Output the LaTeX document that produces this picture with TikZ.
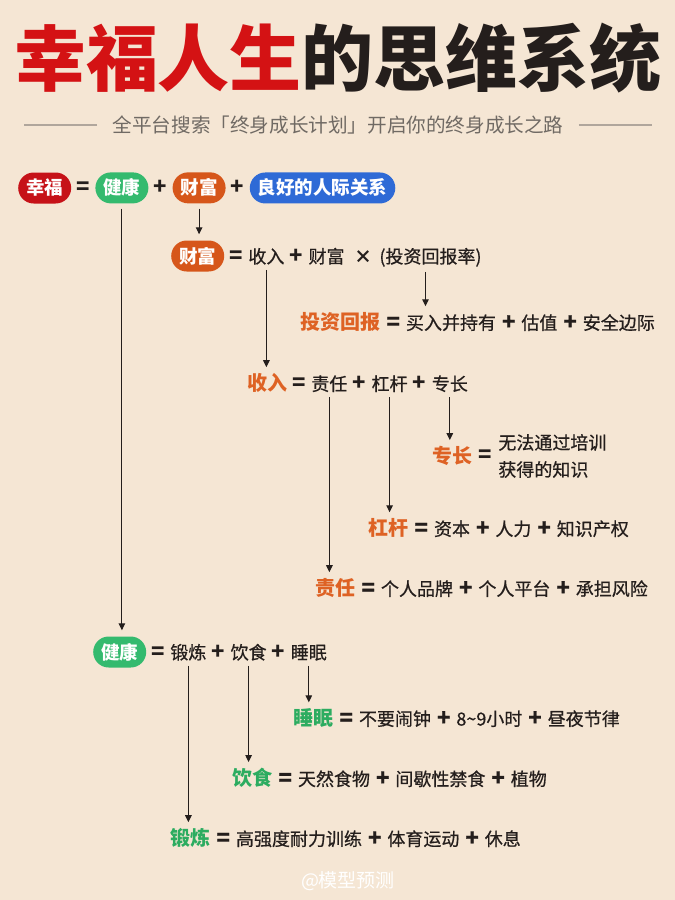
\documentclass[tikz,border=0pt]{standalone}
\usepackage{fontspec}
\setmainfont{Noto Sans CJK SC}
\newfontfamily\bodyfont{Noto Sans CJK SC}[FakeBold=0.6]
\usetikzlibrary{arrows.meta, positioning}
\definecolor{diagBg}{RGB}{245,230,212}
\definecolor{diagInk}{RGB}{36,30,28}
\definecolor{diagTitleRed}{RGB}{212,18,20}
\definecolor{diagRed}{RGB}{198,18,24}
\definecolor{diagGreen}{RGB}{52,186,110}
\definecolor{diagGreenText}{RGB}{44,172,96}
\definecolor{diagOrange}{RGB}{214,86,26}
\definecolor{diagOrangeText}{RGB}{222,98,36}
\definecolor{diagBlue}{RGB}{46,106,214}
\definecolor{diagGray}{RGB}{112,106,100}
\definecolor{diagRule}{RGB}{176,166,156}
% a bold operator with its spacing, used inside the equation texts
\newcommand{\opsym}[1]{\hspace{6pt}{\fontsize{22}{20}\selectfont\bfseries #1}\hspace{6pt}}
\tikzset{
  % rounded pill; the colour comes from one of the *pill styles below
  pill/.style={
    rounded corners=15.5pt, minimum height=31pt, inner xsep=8pt, inner ysep=0pt,
    text=white, font=\fontsize{18.5}{20}\selectfont\bfseries
  },
  redpill/.style={pill, fill=diagRed},
  greenpill/.style={pill, fill=diagGreen},
  orangepill/.style={pill, fill=diagOrange},
  bluepill/.style={pill, fill=diagBlue},
  % plain words of an equation
  term/.style={inner sep=0pt, text=diagInk, font=\bodyfont\fontsize{18}{20}\selectfont},
  op/.style={inner sep=0pt, text=diagInk, font=\fontsize{22}{20}\selectfont\bfseries},
  % coloured head word of an equation
  orkey/.style={inner sep=0pt, text=diagOrangeText, font=\fontsize{20}{22}\selectfont\bfseries},
  grkey/.style={inner sep=0pt, text=diagGreenText, font=\fontsize{20}{22}\selectfont\bfseries},
  % arrows
  flow/.style={-{Triangle[length=7pt,width=6.5pt]}, draw=diagInk, line width=1.1pt,
               shorten <=5pt, shorten >=6pt},
  rule/.style={draw=diagRule, line width=1.1pt},
}

\begin{document}
\begin{tikzpicture}[x=1pt, y=-1pt]

\fill[diagBg] (0,0) rectangle (675,900);
\useasboundingbox (0,0) rectangle (675,900);

% ===========================================================================
% TITLE
% ===========================================================================
\node[text=diagInk, font=\fontsize{72}{72}\selectfont\bfseries] (title) at (338,58)
      {\textcolor{diagTitleRed}{幸福人生}的思维系统};

\node[text=diagGray, font=\fontsize{19.6}{20}\selectfont] (sub) at (338,125)
      {全平台搜索「终身成长计划」开启你的终身成长之路};
\draw[rule] ([xshift=-12pt]sub.west) -- ++(-73,0);
\draw[rule] ([xshift=12pt]sub.east) -- ++(73,0);

% ===========================================================================
% TOP LINE: happiness
% ===========================================================================
\node[redpill, anchor=west] (xf) at (18,188) {幸福};
\node[op, base right=5pt of xf] (e1) {=};
\node[greenpill, base right=5pt of e1] (jk) {健康};
\node[op, base right=5pt of jk] (p1) {+};
\node[orangepill, base right=5pt of p1] (cf) {财富};
\node[op, base right=5pt of cf] (p2) {+};
\node[bluepill, base right=5pt of p2] (rel) {良好的人际关系};

% ===========================================================================
% WEALTH BRANCH
% ===========================================================================
\node[orangepill, anchor=west] (cf2) at (171,256) {财富};
\node[op, base right=5pt of cf2] (e2) {=};
\node[term, base right=5pt of e2] (wsr) {收入};
\node[op, base right=5pt of wsr] (p3) {+};
\node[term, base right=5pt of p3] (wcf) {财富};
\node[term, font=\fontsize{18}{20}\selectfont\bfseries, base right=10pt of wcf] (tm) {×};
\node[term, base right=6pt of tm] (wroi) {(投资回报率)};

\draw[flow] (cf.south) -- (cf.south |- cf2.north);

\node[orkey, anchor=west] (ktz) at (300,322) {投资回报};
\node[term, base right=0pt of ktz] (rtz)
      {\opsym{=}买入并持有\opsym{+}估值\opsym{+}安全边际};

\draw[flow] ([xshift=-5pt]wroi.south) -- ([xshift=-5pt]wroi.south |- ktz.north);

\node[orkey, anchor=west] (ksr) at (247,383) {收入};
\node[op, base right=5pt of ksr] (e3) {=};
\node[term, base right=5pt of e3] (wzr) {责任};
\node[op, base right=5pt of wzr] (p4) {+};
\node[term, base right=5pt of p4] (wgg) {杠杆};
\node[op, base right=5pt of wgg] (p5) {+};
\node[term, base right=5pt of p5] (wzc) {专长};

\draw[flow] (wsr.south) -- (wsr.south |- ksr.north);

\node[orkey, anchor=west] (kzc) at (432,456) {专长};
\node[op, right=6pt of kzc] (e4) {=};
\node[term, right=6pt of e4, align=left, font=\bodyfont\fontsize{18}{27}\selectfont] (rzc)
      {无法通过培训\\获得的知识};

\node[orkey, anchor=west] (kgg) at (368,528) {杠杆};
\node[term, base right=0pt of kgg] (rgg)
      {\opsym{=}资本\opsym{+}人力\opsym{+}知识产权};

\node[orkey, anchor=west] (kzr) at (315,588) {责任};
\node[term, base right=0pt of kzr] (rzr)
      {\opsym{=}个人品牌\opsym{+}个人平台\opsym{+}承担风险};

\draw[flow] (wzc.south) -- (wzc.south |- kzc.north);
\draw[flow] (wgg.south) -- (wgg.south |- kgg.north);
\draw[flow] (wzr.south) -- (wzr.south |- kzr.north);

% ===========================================================================
% HEALTH BRANCH
% ===========================================================================
\node[greenpill, anchor=west] (jk2) at (93,652) {健康};
\node[op, base right=5pt of jk2] (e5) {=};
\node[term, base right=5pt of e5] (wdl) {锻炼};
\node[op, base right=5pt of wdl] (p6) {+};
\node[term, base right=5pt of p6] (wys) {饮食};
\node[op, base right=5pt of wys] (p7) {+};
\node[term, base right=5pt of p7] (wsm) {睡眠};

\draw[flow] (jk.south) -- (jk.south |- jk2.north);

\node[grkey, anchor=west] (ksm) at (293,718) {睡眠};
\node[term, base right=0pt of ksm] (rsm)
      {\opsym{=}不要闹钟\opsym{+}8\textasciitilde 9小时\opsym{+}昼夜节律};

\node[grkey, anchor=west] (kys) at (232,778) {饮食};
\node[term, base right=0pt of kys] (rys)
      {\opsym{=}天然食物\opsym{+}间歇性禁食\opsym{+}植物};

\node[grkey, anchor=west] (kdl) at (170,838) {锻炼};
\node[term, base right=0pt of kdl] (rdl)
      {\opsym{=}高强度耐力训练\opsym{+}体育运动\opsym{+}休息};

\draw[flow] (wsm.south) -- (wsm.south |- ksm.north);
\draw[flow] (wys.south) -- (wys.south |- kys.north);
\draw[flow] (wdl.south) -- (wdl.south |- kdl.north);

% watermark
\node[text=white, font=\fontsize{19}{20}\selectfont] (wm) at (348,881) {@模型预测};

\end{tikzpicture}
\end{document}
